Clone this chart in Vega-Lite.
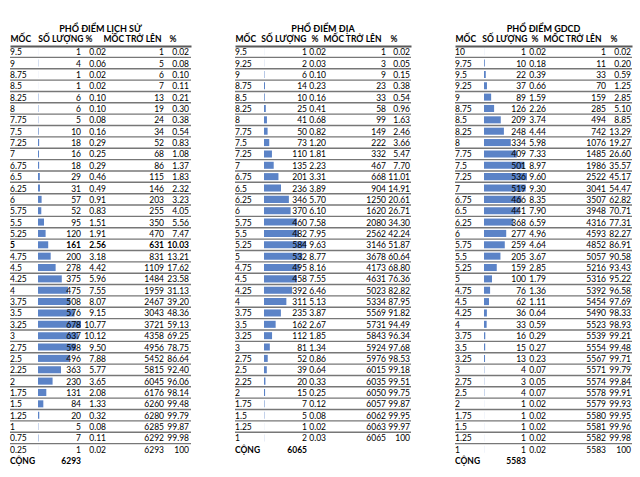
{
  "$schema": "https://vega.github.io/schema/vega-lite/v6.json",
  "background": "white",
  "padding": {"left": 9, "top": 24, "right": 5, "bottom": 5},
  "spacing": 42,
  "config": {
    "view": {"stroke": null},
    "font": "Lato",
    "text": {"font": "Lato", "fontSize": 8.5, "color": "#000000", "baseline": "middle", "dy": 0.5},
    "title": {"font": "Lato", "fontSize": 9, "fontWeight": "bold", "color": "#000000", "anchor": "middle", "offset": 0, "dy": 3},
    "axis": {"labelFont": "Lato", "labelFontSize": 8.5, "labelFontWeight": "bold", "labelColor": "#000000", "ticks": false, "grid": false, "domain": true, "domainColor": "#595959", "domainWidth": 2, "labelPadding": 2.5, "labelOverlap": false, "labelBound": false, "labelFlush": false, "title": null}
  },
  "datasets": {
    "lichsu": [
      {"moc": "9.5", "sl": 1, "pct": 0.02, "cum": 1, "cumpct": 0.02},
      {"moc": "9", "sl": 4, "pct": 0.06, "cum": 5, "cumpct": 0.08},
      {"moc": "8.75", "sl": 1, "pct": 0.02, "cum": 6, "cumpct": 0.10},
      {"moc": "8.5", "sl": 1, "pct": 0.02, "cum": 7, "cumpct": 0.11},
      {"moc": "8.25", "sl": 6, "pct": 0.10, "cum": 13, "cumpct": 0.21},
      {"moc": "8", "sl": 6, "pct": 0.10, "cum": 19, "cumpct": 0.30},
      {"moc": "7.75", "sl": 5, "pct": 0.08, "cum": 24, "cumpct": 0.38},
      {"moc": "7.5", "sl": 10, "pct": 0.16, "cum": 34, "cumpct": 0.54},
      {"moc": "7.25", "sl": 18, "pct": 0.29, "cum": 52, "cumpct": 0.83},
      {"moc": "7", "sl": 16, "pct": 0.25, "cum": 68, "cumpct": 1.08},
      {"moc": "6.75", "sl": 18, "pct": 0.29, "cum": 86, "cumpct": 1.37},
      {"moc": "6.5", "sl": 29, "pct": 0.46, "cum": 115, "cumpct": 1.83},
      {"moc": "6.25", "sl": 31, "pct": 0.49, "cum": 146, "cumpct": 2.32},
      {"moc": "6", "sl": 57, "pct": 0.91, "cum": 203, "cumpct": 3.23},
      {"moc": "5.75", "sl": 52, "pct": 0.83, "cum": 255, "cumpct": 4.05},
      {"moc": "5.5", "sl": 95, "pct": 1.51, "cum": 350, "cumpct": 5.56},
      {"moc": "5.25", "sl": 120, "pct": 1.91, "cum": 470, "cumpct": 7.47},
      {"moc": "5", "sl": 161, "pct": 2.56, "cum": 631, "cumpct": 10.03},
      {"moc": "4.75", "sl": 200, "pct": 3.18, "cum": 831, "cumpct": 13.21},
      {"moc": "4.5", "sl": 278, "pct": 4.42, "cum": 1109, "cumpct": 17.62},
      {"moc": "4.25", "sl": 375, "pct": 5.96, "cum": 1484, "cumpct": 23.58},
      {"moc": "4", "sl": 475, "pct": 7.55, "cum": 1959, "cumpct": 31.13},
      {"moc": "3.75", "sl": 508, "pct": 8.07, "cum": 2467, "cumpct": 39.20},
      {"moc": "3.5", "sl": 576, "pct": 9.15, "cum": 3043, "cumpct": 48.36},
      {"moc": "3.25", "sl": 678, "pct": 10.77, "cum": 3721, "cumpct": 59.13},
      {"moc": "3", "sl": 637, "pct": 10.12, "cum": 4358, "cumpct": 69.25},
      {"moc": "2.75", "sl": 598, "pct": 9.50, "cum": 4956, "cumpct": 78.75},
      {"moc": "2.5", "sl": 496, "pct": 7.88, "cum": 5452, "cumpct": 86.64},
      {"moc": "2.25", "sl": 363, "pct": 5.77, "cum": 5815, "cumpct": 92.40},
      {"moc": "2", "sl": 230, "pct": 3.65, "cum": 6045, "cumpct": 96.06},
      {"moc": "1.75", "sl": 131, "pct": 2.08, "cum": 6176, "cumpct": 98.14},
      {"moc": "1.5", "sl": 84, "pct": 1.33, "cum": 6260, "cumpct": 99.48},
      {"moc": "1.25", "sl": 20, "pct": 0.32, "cum": 6280, "cumpct": 99.79},
      {"moc": "1", "sl": 5, "pct": 0.08, "cum": 6285, "cumpct": 99.87},
      {"moc": "0.75", "sl": 7, "pct": 0.11, "cum": 6292, "cumpct": 99.98},
      {"moc": "0.25", "sl": 1, "pct": 0.02, "cum": 6293, "cumpct": 100},
      {"moc": "CỘNG", "sl": 6293}
    ],
    "dia": [
      {"moc": "9.5", "sl": 1, "pct": 0.02, "cum": 1, "cumpct": 0.02},
      {"moc": "9.25", "sl": 2, "pct": 0.03, "cum": 3, "cumpct": 0.05},
      {"moc": "9", "sl": 6, "pct": 0.10, "cum": 9, "cumpct": 0.15},
      {"moc": "8.75", "sl": 14, "pct": 0.23, "cum": 23, "cumpct": 0.38},
      {"moc": "8.5", "sl": 10, "pct": 0.16, "cum": 33, "cumpct": 0.54},
      {"moc": "8.25", "sl": 25, "pct": 0.41, "cum": 58, "cumpct": 0.96},
      {"moc": "8", "sl": 41, "pct": 0.68, "cum": 99, "cumpct": 1.63},
      {"moc": "7.75", "sl": 50, "pct": 0.82, "cum": 149, "cumpct": 2.46},
      {"moc": "7.5", "sl": 73, "pct": 1.20, "cum": 222, "cumpct": 3.66},
      {"moc": "7.25", "sl": 110, "pct": 1.81, "cum": 332, "cumpct": 5.47},
      {"moc": "7", "sl": 135, "pct": 2.23, "cum": 467, "cumpct": 7.70},
      {"moc": "6.75", "sl": 201, "pct": 3.31, "cum": 668, "cumpct": 11.01},
      {"moc": "6.5", "sl": 236, "pct": 3.89, "cum": 904, "cumpct": 14.91},
      {"moc": "6.25", "sl": 346, "pct": 5.70, "cum": 1250, "cumpct": 20.61},
      {"moc": "6", "sl": 370, "pct": 6.10, "cum": 1620, "cumpct": 26.71},
      {"moc": "5.75", "sl": 460, "pct": 7.58, "cum": 2080, "cumpct": 34.30},
      {"moc": "5.5", "sl": 482, "pct": 7.95, "cum": 2562, "cumpct": 42.24},
      {"moc": "5.25", "sl": 584, "pct": 9.63, "cum": 3146, "cumpct": 51.87},
      {"moc": "5", "sl": 532, "pct": 8.77, "cum": 3678, "cumpct": 60.64},
      {"moc": "4.75", "sl": 495, "pct": 8.16, "cum": 4173, "cumpct": 68.80},
      {"moc": "4.5", "sl": 458, "pct": 7.55, "cum": 4631, "cumpct": 76.36},
      {"moc": "4.25", "sl": 392, "pct": 6.46, "cum": 5023, "cumpct": 82.82},
      {"moc": "4", "sl": 311, "pct": 5.13, "cum": 5334, "cumpct": 87.95},
      {"moc": "3.75", "sl": 235, "pct": 3.87, "cum": 5569, "cumpct": 91.82},
      {"moc": "3.5", "sl": 162, "pct": 2.67, "cum": 5731, "cumpct": 94.49},
      {"moc": "3.25", "sl": 112, "pct": 1.85, "cum": 5843, "cumpct": 96.34},
      {"moc": "3", "sl": 81, "pct": 1.34, "cum": 5924, "cumpct": 97.68},
      {"moc": "2.75", "sl": 52, "pct": 0.86, "cum": 5976, "cumpct": 98.53},
      {"moc": "2.5", "sl": 39, "pct": 0.64, "cum": 6015, "cumpct": 99.18},
      {"moc": "2.25", "sl": 20, "pct": 0.33, "cum": 6035, "cumpct": 99.51},
      {"moc": "2", "sl": 15, "pct": 0.25, "cum": 6050, "cumpct": 99.75},
      {"moc": "1.75", "sl": 7, "pct": 0.12, "cum": 6057, "cumpct": 99.87},
      {"moc": "1.5", "sl": 5, "pct": 0.08, "cum": 6062, "cumpct": 99.95},
      {"moc": "1.25", "sl": 1, "pct": 0.02, "cum": 6063, "cumpct": 99.97},
      {"moc": "1", "sl": 2, "pct": 0.03, "cum": 6065, "cumpct": 100},
      {"moc": "CỘNG", "sl": 6065}
    ],
    "gdcd": [
      {"moc": "10", "sl": 1, "pct": 0.02, "cum": 1, "cumpct": 0.02},
      {"moc": "9.75", "sl": 10, "pct": 0.18, "cum": 11, "cumpct": 0.20},
      {"moc": "9.5", "sl": 22, "pct": 0.39, "cum": 33, "cumpct": 0.59},
      {"moc": "9.25", "sl": 37, "pct": 0.66, "cum": 70, "cumpct": 1.25},
      {"moc": "9", "sl": 89, "pct": 1.59, "cum": 159, "cumpct": 2.85},
      {"moc": "8.75", "sl": 126, "pct": 2.26, "cum": 285, "cumpct": 5.10},
      {"moc": "8.5", "sl": 209, "pct": 3.74, "cum": 494, "cumpct": 8.85},
      {"moc": "8.25", "sl": 248, "pct": 4.44, "cum": 742, "cumpct": 13.29},
      {"moc": "8", "sl": 334, "pct": 5.98, "cum": 1076, "cumpct": 19.27},
      {"moc": "7.75", "sl": 409, "pct": 7.33, "cum": 1485, "cumpct": 26.60},
      {"moc": "7.5", "sl": 501, "pct": 8.97, "cum": 1986, "cumpct": 35.57},
      {"moc": "7.25", "sl": 536, "pct": 9.60, "cum": 2522, "cumpct": 45.17},
      {"moc": "7", "sl": 519, "pct": 9.30, "cum": 3041, "cumpct": 54.47},
      {"moc": "6.75", "sl": 466, "pct": 8.35, "cum": 3507, "cumpct": 62.82},
      {"moc": "6.5", "sl": 441, "pct": 7.90, "cum": 3948, "cumpct": 70.71},
      {"moc": "6.25", "sl": 368, "pct": 6.59, "cum": 4316, "cumpct": 77.31},
      {"moc": "6", "sl": 277, "pct": 4.96, "cum": 4593, "cumpct": 82.27},
      {"moc": "5.75", "sl": 259, "pct": 4.64, "cum": 4852, "cumpct": 86.91},
      {"moc": "5.5", "sl": 205, "pct": 3.67, "cum": 5057, "cumpct": 90.58},
      {"moc": "5.25", "sl": 159, "pct": 2.85, "cum": 5216, "cumpct": 93.43},
      {"moc": "5", "sl": 100, "pct": 1.79, "cum": 5316, "cumpct": 95.22},
      {"moc": "4.75", "sl": 76, "pct": 1.36, "cum": 5392, "cumpct": 96.58},
      {"moc": "4.5", "sl": 62, "pct": 1.11, "cum": 5454, "cumpct": 97.69},
      {"moc": "4.25", "sl": 36, "pct": 0.64, "cum": 5490, "cumpct": 98.33},
      {"moc": "4", "sl": 33, "pct": 0.59, "cum": 5523, "cumpct": 98.93},
      {"moc": "3.75", "sl": 16, "pct": 0.29, "cum": 5539, "cumpct": 99.21},
      {"moc": "3.5", "sl": 15, "pct": 0.27, "cum": 5554, "cumpct": 99.48},
      {"moc": "3.25", "sl": 13, "pct": 0.23, "cum": 5567, "cumpct": 99.71},
      {"moc": "3", "sl": 4, "pct": 0.07, "cum": 5571, "cumpct": 99.79},
      {"moc": "2.75", "sl": 3, "pct": 0.05, "cum": 5574, "cumpct": 99.84},
      {"moc": "2.5", "sl": 4, "pct": 0.07, "cum": 5578, "cumpct": 99.91},
      {"moc": "2", "sl": 1, "pct": 0.02, "cum": 5579, "cumpct": 99.93},
      {"moc": "1.75", "sl": 1, "pct": 0.02, "cum": 5580, "cumpct": 99.95},
      {"moc": "1.5", "sl": 1, "pct": 0.02, "cum": 5581, "cumpct": 99.96},
      {"moc": "1.25", "sl": 1, "pct": 0.02, "cum": 5582, "cumpct": 99.98},
      {"moc": "1", "sl": 1, "pct": 0.02, "cum": 5583, "cumpct": 100},
      {"moc": "CỘNG", "sl": 5583}
    ]
  },
  "hconcat": [
    {
      "width": 181,
      "height": {"step": 11.36},
      "title": "PHỔ ĐIỂM LỊCH SỬ",
      "data": {"name": "lichsu"},
      "encoding": {"y": {"field": "moc", "type": "nominal", "axis": null, "scale": {"paddingInner": 0, "paddingOuter": 0, "domain": ["9.5","9","8.75","8.5","8.25","8","7.75","7.5","7.25","7","6.75","6.5","6.25","6","5.75","5.5","5.25","5","4.75","4.5","4.25","4","3.75","3.5","3.25","3","2.75","2.5","2.25","2","1.75","1.5","1.25","1","0.75","0.25","CỘNG"]}}},
      "resolve": {"scale": {"x": "independent"}},
      "layer": [
        {"transform": [{"filter": "isValid(datum.pct)"}], "mark": {"type": "bar", "color": "#5b83c7", "height": {"band": 0.62}}, "encoding": {"x": {"field": "sl", "type": "quantitative", "axis": null, "scale": {"domain": [0, 678], "range": [28, 71]}}}},
        {"transform": [{"filter": "isValid(datum.cumpct) && datum.cumpct < 100"}], "mark": {"type": "rule", "color": "#777777", "strokeWidth": 1.4, "yOffset": 5.68}, "encoding": {}},
        {
          "encoding": {"x": {"datum": 0, "type": "quantitative", "scale": {"domain": [0, 181], "nice": false, "zero": false}, "axis": {"orient": "top", "values": [0, 73, 75, 151, 159], "labelAlign": {"condition": {"test": "datum.value == 73 || datum.value == 151", "value": "right"}, "value": "left"}, "labelExpr": "datum.value == 0 ? 'MỐC' : datum.value == 73 ? 'SỐ LƯỢNG' : datum.value == 151 ? 'MỐC TRỞ LÊN' : '%'"}}},
          "layer": [
            {"mark": {"type": "text", "align": "left", "fontWeight": {"expr": "datum.moc == 'CỘNG' || datum.moc == '5' ? 'bold' : 'normal'"}}, "encoding": {"text": {"field": "moc", "type": "nominal"}}},
            {"mark": {"type": "text", "align": "right", "fontWeight": {"expr": "datum.moc == 'CỘNG' || datum.moc == '5' ? 'bold' : 'normal'"}}, "encoding": {"x": {"datum": 71, "type": "quantitative"}, "text": {"field": "sl", "type": "quantitative"}}},
            {"transform": [{"filter": "isValid(datum.pct)"}], "mark": {"type": "text", "align": "right", "fontWeight": {"expr": "datum.moc == '5' ? 'bold' : 'normal'"}}, "encoding": {"x": {"datum": 96, "type": "quantitative"}, "text": {"field": "pct", "type": "quantitative", "format": ".2f"}}},
            {"transform": [{"filter": "isValid(datum.pct)"}], "mark": {"type": "text", "align": "right", "fontWeight": {"expr": "datum.moc == '5' ? 'bold' : 'normal'"}}, "encoding": {"x": {"datum": 154, "type": "quantitative"}, "text": {"field": "cum", "type": "quantitative"}}},
            {"transform": [{"filter": "isValid(datum.pct)"}], "mark": {"type": "text", "align": "right", "fontWeight": {"expr": "datum.moc == '5' ? 'bold' : 'normal'"}}, "encoding": {"x": {"datum": 179, "type": "quantitative"}, "text": {"condition": {"test": "datum.cumpct == 100", "value": "100"}, "field": "cumpct", "type": "quantitative", "format": ".2f"}}}
          ]
        }
      ]
    },
    {
      "width": 176,
      "height": {"step": 11.36},
      "title": "PHỔ ĐIỂM ĐỊA",
      "data": {"name": "dia"},
      "encoding": {"y": {"field": "moc", "type": "nominal", "axis": null, "scale": {"paddingInner": 0, "paddingOuter": 0, "domain": ["9.5","9.25","9","8.75","8.5","8.25","8","7.75","7.5","7.25","7","6.75","6.5","6.25","6","5.75","5.5","5.25","5","4.75","4.5","4.25","4","3.75","3.5","3.25","3","2.75","2.5","2.25","2","1.75","1.5","1.25","1","CỘNG"]}}},
      "resolve": {"scale": {"x": "independent"}},
      "layer": [
        {"transform": [{"filter": "isValid(datum.pct)"}], "mark": {"type": "bar", "color": "#5b83c7", "height": {"band": 0.62}}, "encoding": {"x": {"field": "sl", "type": "quantitative", "axis": null, "scale": {"domain": [0, 584], "range": [29, 71]}}}},
        {"transform": [{"filter": "isValid(datum.cumpct) && datum.cumpct < 100"}], "mark": {"type": "rule", "color": "#777777", "strokeWidth": 1.4, "yOffset": 5.68}, "encoding": {}},
        {
          "encoding": {"x": {"datum": 0, "type": "quantitative", "scale": {"domain": [0, 176], "nice": false, "zero": false}, "axis": {"orient": "top", "values": [0, 71, 76, 146, 155], "labelAlign": {"condition": {"test": "datum.value == 71 || datum.value == 146", "value": "right"}, "value": "left"}, "labelExpr": "datum.value == 0 ? 'MỐC' : datum.value == 71 ? 'SỐ LƯỢNG' : datum.value == 146 ? 'MỐC TRỞ LÊN' : '%'"}}},
          "layer": [
            {"mark": {"type": "text", "align": "left", "fontWeight": {"expr": "datum.moc == 'CỘNG' ? 'bold' : 'normal'"}}, "encoding": {"text": {"field": "moc", "type": "nominal"}}},
            {"mark": {"type": "text", "align": "right", "fontWeight": {"expr": "datum.moc == 'CỘNG' ? 'bold' : 'normal'"}}, "encoding": {"x": {"datum": 72, "type": "quantitative"}, "text": {"field": "sl", "type": "quantitative"}}},
            {"transform": [{"filter": "isValid(datum.pct)"}], "mark": {"type": "text", "align": "right"}, "encoding": {"x": {"datum": 91, "type": "quantitative"}, "text": {"field": "pct", "type": "quantitative", "format": ".2f"}}},
            {"transform": [{"filter": "isValid(datum.pct)"}], "mark": {"type": "text", "align": "right"}, "encoding": {"x": {"datum": 151, "type": "quantitative"}, "text": {"field": "cum", "type": "quantitative"}}},
            {"transform": [{"filter": "isValid(datum.pct)"}], "mark": {"type": "text", "align": "right"}, "encoding": {"x": {"datum": 175, "type": "quantitative"}, "text": {"condition": {"test": "datum.cumpct == 100", "value": "100"}, "field": "cumpct", "type": "quantitative", "format": ".2f"}}}
          ]
        }
      ]
    },
    {
      "width": 177,
      "height": {"step": 11.36},
      "title": "PHỔ ĐIỂM GDCD",
      "data": {"name": "gdcd"},
      "encoding": {"y": {"field": "moc", "type": "nominal", "axis": null, "scale": {"paddingInner": 0, "paddingOuter": 0, "domain": ["10","9.75","9.5","9.25","9","8.75","8.5","8.25","8","7.75","7.5","7.25","7","6.75","6.5","6.25","6","5.75","5.5","5.25","5","4.75","4.5","4.25","4","3.75","3.5","3.25","3","2.75","2.5","2","1.75","1.5","1.25","1","CỘNG"]}}},
      "resolve": {"scale": {"x": "independent"}},
      "layer": [
        {"transform": [{"filter": "isValid(datum.pct)"}], "mark": {"type": "bar", "color": "#5b83c7", "height": {"band": 0.62}}, "encoding": {"x": {"field": "sl", "type": "quantitative", "axis": null, "scale": {"domain": [0, 536], "range": [29, 72]}}}},
        {"transform": [{"filter": "isValid(datum.cumpct) && datum.cumpct < 100"}], "mark": {"type": "rule", "color": "#777777", "strokeWidth": 1.4, "yOffset": 5.68}, "encoding": {}},
        {
          "encoding": {"x": {"datum": 0, "type": "quantitative", "scale": {"domain": [0, 177], "nice": false, "zero": false}, "axis": {"orient": "top", "values": [0, 72, 76, 146, 155], "labelAlign": {"condition": {"test": "datum.value == 72 || datum.value == 146", "value": "right"}, "value": "left"}, "labelExpr": "datum.value == 0 ? 'MỐC' : datum.value == 72 ? 'SỐ LƯỢNG' : datum.value == 146 ? 'MỐC TRỞ LÊN' : '%'"}}},
          "layer": [
            {"mark": {"type": "text", "align": "left", "fontWeight": {"expr": "datum.moc == 'CỘNG' ? 'bold' : 'normal'"}}, "encoding": {"text": {"field": "moc", "type": "nominal"}}},
            {"mark": {"type": "text", "align": "right", "fontWeight": {"expr": "datum.moc == 'CỘNG' ? 'bold' : 'normal'"}}, "encoding": {"x": {"datum": 71, "type": "quantitative"}, "text": {"field": "sl", "type": "quantitative"}}},
            {"transform": [{"filter": "isValid(datum.pct)"}], "mark": {"type": "text", "align": "right"}, "encoding": {"x": {"datum": 91, "type": "quantitative"}, "text": {"field": "pct", "type": "quantitative", "format": ".2f"}}},
            {"transform": [{"filter": "isValid(datum.pct)"}], "mark": {"type": "text", "align": "right"}, "encoding": {"x": {"datum": 151, "type": "quantitative"}, "text": {"field": "cum", "type": "quantitative"}}},
            {"transform": [{"filter": "isValid(datum.pct)"}], "mark": {"type": "text", "align": "right"}, "encoding": {"x": {"datum": 176, "type": "quantitative"}, "text": {"condition": {"test": "datum.cumpct == 100", "value": "100"}, "field": "cumpct", "type": "quantitative", "format": ".2f"}}}
          ]
        }
      ]
    }
  ]
}
